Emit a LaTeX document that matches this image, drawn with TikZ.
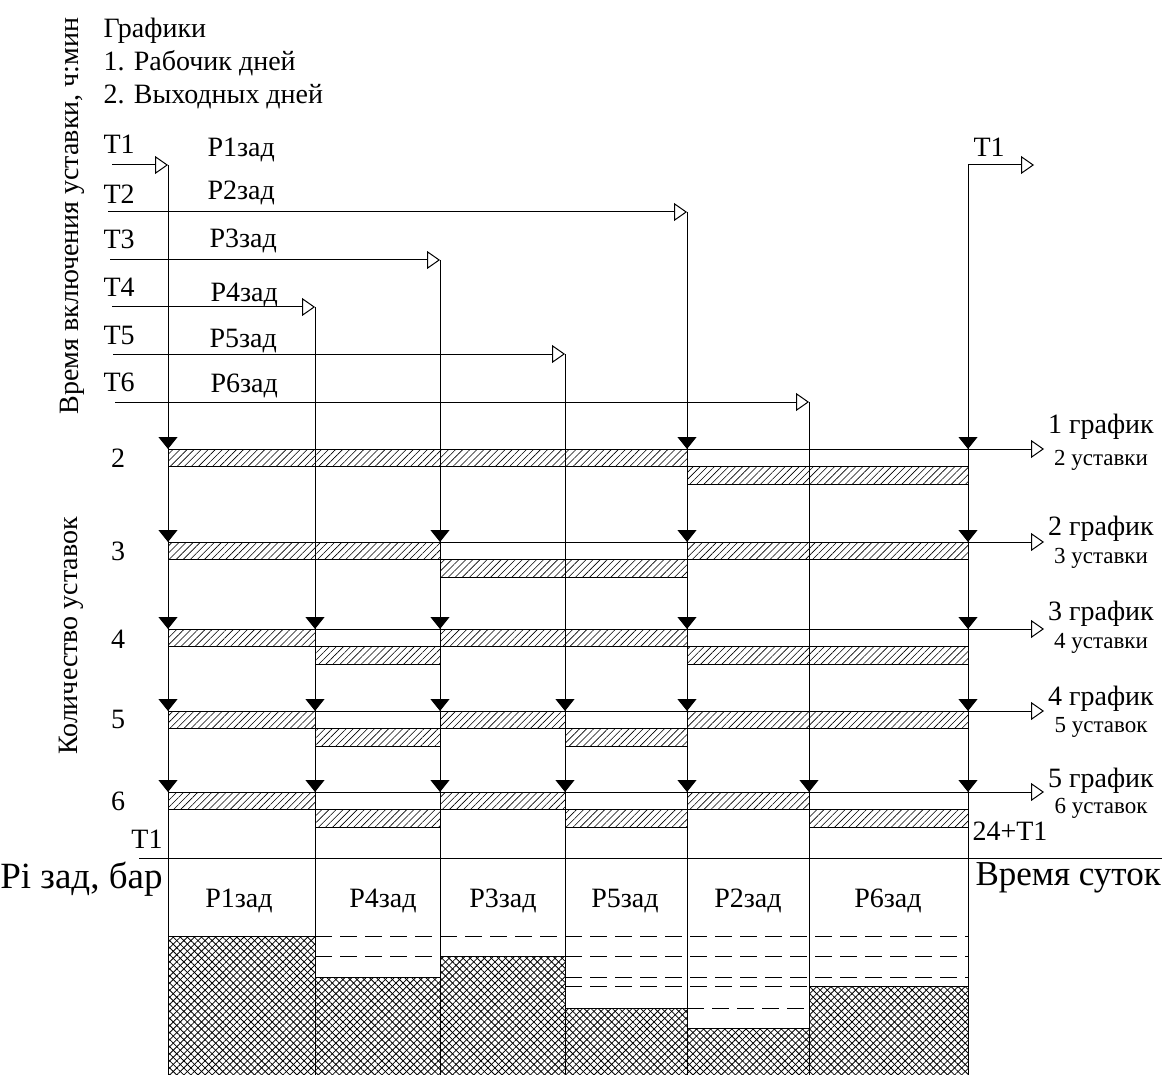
\documentclass[tikz,border=0pt]{standalone}
\usepackage{fontspec}
\setmainfont{Liberation Serif}
\usetikzlibrary{arrows.meta,patterns,patterns.meta}

\begin{document}
\begin{tikzpicture}[x=0.5pt, y=-0.5pt, line width=0.5pt,
    every node/.style={inner sep=0pt, font=\fontsize{14}{16}\selectfont},
    smalltext/.style={font=\fontsize{11.5}{13}\selectfont},
    bigtext/.style={font=\fontsize{17.5}{20}\selectfont},
    openarrow/.style={-{Triangle[open, length=6.5pt, width=9pt]}},
    setarrow/.style={-{Triangle[length=6pt, width=9.5pt]}},
    hatchbar/.style={draw, pattern={Lines[angle=45, distance=2.5pt, line width=0.3pt]}},
    crossbar/.style={draw, pattern={Lines[angle=45, distance=2.5pt, line width=0.4pt]},
      postaction={pattern={Lines[angle=-45, distance=2.5pt, line width=0.4pt]}}},
    levelline/.style={dash pattern=on 8.5pt off 4pt}]

  \useasboundingbox (0,0) rectangle (1162,1075);

  % Legend and axis titles
  \node[anchor=base west] (title) at (103,38) {Графики};
  \node[anchor=base west] (work) at (103,71) {1. Рабочик дней};
  \node[anchor=base west] (rest) at (103,104) {2. Выходных дней};
  \node[rotate=90] (axistime) at (72,216) {Время включения уставки, ч:мин};
  \node[rotate=90] (axiscount) at (71,636) {Количество уставок};

  % Switching times
  \node[anchor=base west] (t1) at (103,154) {T1};
  \node[anchor=base west] (t2) at (103,204) {T2};
  \node[anchor=base west] (t3) at (103,249) {T3};
  \node[anchor=base west] (t4) at (103,297) {T4};
  \node[anchor=base west] (t5) at (103,344) {T5};
  \node[anchor=base west] (t6) at (103,391) {T6};
  \node[anchor=base west] (p1) at (207,157) {Р1зад};
  \node[anchor=base west] (p2) at (207,200) {Р2зад};
  \node[anchor=base west] (p3) at (209,248) {Р3зад};
  \node[anchor=base west] (p4) at (210,301) {Р4зад};
  \node[anchor=base west] (p5) at (209,347) {Р5зад};
  \node[anchor=base west] (p6) at (210,392) {Р6зад};
  \node[anchor=base west] (t1end) at (973,157) {T1};

  \coordinate (v1) at (168,165);
  \coordinate (v2) at (687,212);
  \coordinate (v3) at (440,260);
  \coordinate (v4) at (315,307);
  \coordinate (v5) at (565,354);
  \coordinate (v6) at (809,402);
  \coordinate (v7) at (968,165);

  \draw[openarrow] (112,165) -- (v1);
  \draw[openarrow] (108,212) -- (v2);
  \draw[openarrow] (110,260) -- (v3);
  \draw[openarrow] (112,307) -- (v4);
  \draw[openarrow] (113,354) -- (v5);
  \draw[openarrow] (115,402) -- (v6);
  \draw[openarrow] (968,1085) -- (v7) -- (1034,165);
  \foreach \v in {v1,v2,v3,v4,v5,v6}
    \draw (\v) -- (\v |- 0,1085);

  % Schedules
  \foreach \y/\segs in {449/{168/687/0,687/968/1},
      542/{168/440/0,440/687/1,687/968/0},
      629/{168/315/0,315/440/1,440/687/0,687/968/1},
      711/{168/315/0,315/440/1,440/565/0,565/687/1,687/968/0},
      792/{168/315/0,315/440/1,440/565/0,565/687/1,687/809/0,809/968/1}}
  {
    \foreach \xa/\xb/\d in \segs
      \draw[hatchbar] (\xa,{\y+\d*17.5}) rectangle (\xb,{\y+\d*17.5+17.5});
    \draw[openarrow] (168,\y) -- (1044,\y);
  }
  \foreach \y/\xs in {449/{168,687,968}, 542/{168,440,687,968},
      629/{168,315,440,687,968}, 711/{168,315,440,565,687,968},
      792/{168,315,440,565,687,809,968}}
    \foreach \x in \xs
      \draw[setarrow] (\x,{\y-13}) -- (\x,\y);

  \node[anchor=base] (n2) at (118,467) {2};
  \node[anchor=base] (n3) at (118,560) {3};
  \node[anchor=base] (n4) at (118,648) {4};
  \node[anchor=base] (n5) at (118,728) {5};
  \node[anchor=base] (n6) at (118,810) {6};

  \node[anchor=base] (g1) at (1101,433) {1 график};
  \node[anchor=base, smalltext] (s1) at (1101,465) {2 уставки};
  \node[anchor=base] (g2) at (1101,535) {2 график};
  \node[anchor=base, smalltext] (s2) at (1101,563) {3 уставки};
  \node[anchor=base] (g3) at (1101,620) {3 график};
  \node[anchor=base, smalltext] (s3) at (1101,648) {4 уставки};
  \node[anchor=base] (g4) at (1101,705) {4 график};
  \node[anchor=base, smalltext] (s4) at (1101,732) {5 уставок};
  \node[anchor=base] (g5) at (1101,787) {5 график};
  \node[anchor=base, smalltext] (s5) at (1101,813) {6 уставок};

  \node[anchor=base east] (tstart) at (163,848) {T1};
  \node[anchor=base west] (tday) at (972,840) {24+T1};

  % Pressure set points
  \draw (139,858) -- (1162,858);
  \node[anchor=base east, bigtext, font=\fontsize{18.5}{21}\selectfont] (pset) at (163,888) {Pi зад, бар};
  \node[anchor=base west, bigtext] (daytime) at (975,885) {Время суток};

  \draw[crossbar] (168,936) rectangle (315,1085);
  \draw[crossbar] (315,977) rectangle (440,1085);
  \draw[crossbar] (440,956) rectangle (565,1085);
  \draw[crossbar] (565,1008) rectangle (687,1085);
  \draw[crossbar] (687,1028) rectangle (809,1085);
  \draw[crossbar] (809,986) rectangle (968,1085);

  \draw[levelline] (315,936) -- (968,936);
  \draw[levelline] (315,956) -- (440,956);
  \draw[levelline] (565,956) -- (968,956);
  \draw[levelline] (565,977) -- (968,977);
  \draw[levelline] (565,986) -- (809,986);
  \draw[levelline] (687,1008) -- (809,1008);

  \node[anchor=base] (c1) at (239,907) {Р1зад};
  \node[anchor=base] (c4) at (383,907) {Р4зад};
  \node[anchor=base] (c3) at (503,907) {Р3зад};
  \node[anchor=base] (c5) at (625,907) {Р5зад};
  \node[anchor=base] (c2) at (748,907) {Р2зад};
  \node[anchor=base] (c6) at (888,907) {Р6зад};

\end{tikzpicture}
\end{document}
